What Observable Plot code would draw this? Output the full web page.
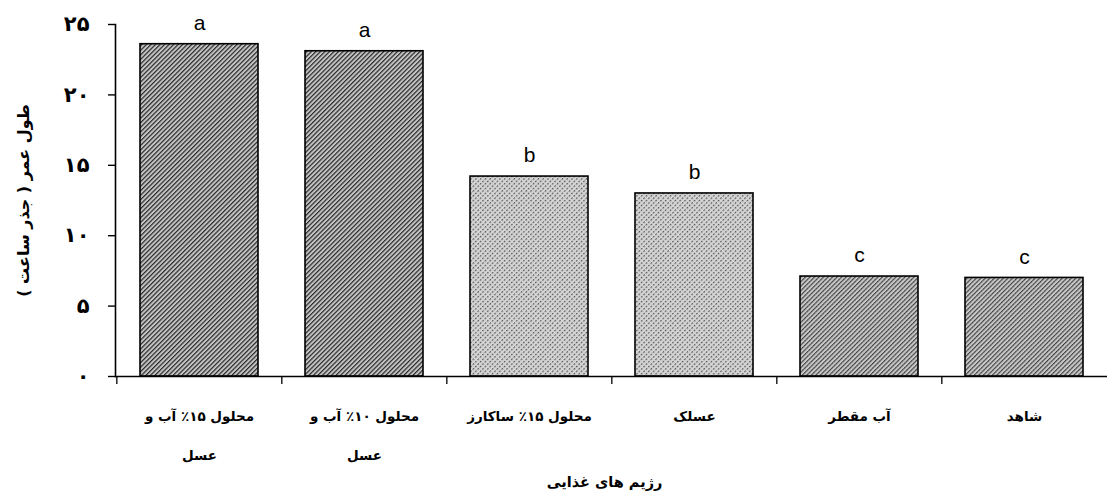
<!DOCTYPE html>
<html>
<head>
<meta charset="utf-8">
<script src="https://cdn.jsdelivr.net/npm/d3@7"></script>
<script src="https://cdn.jsdelivr.net/npm/@observablehq/plot@0.6"></script>
<style>
  html, body { margin: 0; padding: 0; background: #fff; }
  #chart svg { display: block; }
</style>
</head>
<body>
<svg width="0" height="0" style="position:absolute">
  <defs>
    <pattern id="hatch-a" width="3.2" height="3.2" patternUnits="userSpaceOnUse" patternTransform="rotate(45)">
      <rect width="3.2" height="3.2" fill="#c4c4c4"></rect>
      <line x1="0.6" y1="0" x2="0.6" y2="3.2" stroke="#222" stroke-width="1.15"></line>
    </pattern>
    <pattern id="hatch-b" width="3.4" height="3.4" patternUnits="userSpaceOnUse" patternTransform="rotate(45)">
      <rect width="3.4" height="3.4" fill="#d4d4d4"></rect>
      <line x1="0.6" y1="0" x2="0.6" y2="3.4" stroke="#4a4a4a" stroke-width="1" stroke-dasharray="2 1.3"></line>
    </pattern>
    <pattern id="hatch-c" width="3.2" height="3.2" patternUnits="userSpaceOnUse" patternTransform="rotate(45)">
      <rect width="3.2" height="3.2" fill="#c8c8c8"></rect>
      <line x1="0.6" y1="0" x2="0.6" y2="3.2" stroke="#2e2e2e" stroke-width="1.05" stroke-dasharray="3 0.8"></line>
    </pattern>
  </defs>
</svg>
<div id="chart"></div>
<script>
// ---- data ----
const categories = [
  "محلول ۱۵٪ آب و\nعسل",
  "محلول ۱۰٪ آب و\nعسل",
  "محلول ۱۵٪ ساکارز",
  "عسلک",
  "آب مقطر",
  "شاهد"
];
const values = [23.6, 23.1, 14.2, 13.0, 7.1, 7.0];
const letters = ["a", "a", "b", "b", "c", "c"];
const yTicks = [0, 5, 10, 15, 20, 25];
const yTickLabels = ["۰", "۵", "۱۰", "۱۵", "۲۰", "۲۵"];
const yTitle = "طول عمر ( جذر ساعت )";
const xTitle = "رژیم های غذایی";

const data = categories.map((c, i) => ({cat: c, value: values[i], letter: letters[i]}));

const W = 1107, H = 496, mL = 115, mR = 0, mT = 24, mB = 120;
const step = (W - mL - mR) / categories.length;
const faFont = "'DejaVu Sans', sans-serif";

const chart = Plot.plot({
  width: W,
  height: H,
  marginLeft: mL,
  marginRight: mR,
  marginTop: mT,
  marginBottom: mB,
  style: {background: "#fff", color: "#000"},
  x: {domain: categories, paddingInner: 0.286, paddingOuter: 0.143, axis: null},
  y: {domain: [0, 25], axis: null},
  color: {type: "identity"},
  marks: [
    Plot.barY(data, {
      x: "cat", y: "value",
      fill: d => "url(#hatch-" + d.letter + ")",
      stroke: "#000", strokeWidth: 1.6
    }),
    Plot.ruleY([0], {stroke: "#000", strokeWidth: 1.4}),
    Plot.frame({anchor: "left", stroke: "#000", strokeWidth: 1.6}),
    Plot.ruleX(categories, {x: d => d, dx: -step / 2, y1: 0, y2: 0, insetBottom: -8, stroke: "#000", strokeWidth: 1.3}),
    Plot.axisY({
      ticks: yTicks,
      tickFormat: d => yTickLabels[yTicks.indexOf(d)],
      tickSize: 7, tickPadding: 19,
      fontSize: 21, fontWeight: "bold", fontFamily: faFont,
      label: null, strokeWidth: 1.4
    }),
    Plot.text(data, {
      x: "cat", y: "value", text: "letter", dy: -21,
      fontSize: 21, fontFamily: "'Liberation Sans', Arial, sans-serif"
    }),
    Plot.text(data, {
      x: "cat", y: 0, text: "cat", dy: 17, lineAnchor: "top", lineHeight: 2.9,
      fontSize: 13.5, fontWeight: "bold", fontFamily: faFont
    }),
    Plot.text([xTitle], {
      frameAnchor: "bottom", dy: 110, dx: -7,
      fontSize: 14.5, fontWeight: "bold", fontFamily: faFont
    }),
    Plot.text([yTitle], {
      frameAnchor: "left", textAnchor: "middle", dx: -92, rotate: -90,
      fontSize: 16, fontWeight: "bold", fontFamily: faFont
    })
  ]
});
document.getElementById("chart").appendChild(chart);
</script>
</body>
</html>
